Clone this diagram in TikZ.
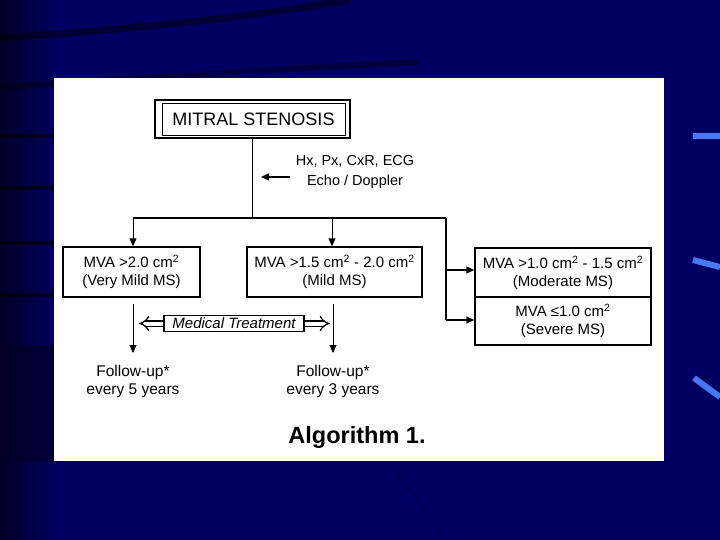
\documentclass[tikz,border=0pt]{standalone}
\usepackage{fontspec}
\setmainfont{Liberation Sans}
\usetikzlibrary{arrows.meta}
\definecolor{navy}{RGB}{0,0,98}
\definecolor{navydark}{RGB}{0,0,40}
\definecolor{accent}{RGB}{70,120,245}
\begin{document}
\begin{tikzpicture}[x=1pt,y=-1pt,
  box/.style={draw, line width=1.4pt, align=center, inner sep=0pt, font=\fontsize{15}{18}\selectfont},
  thin/.style={line width=0.6pt},
  arr/.style={line width=0.9pt, -{Triangle[length=8pt,width=7pt]}},
  lbl/.style={align=center, font=\fontsize{15.5}{18}\selectfont}]
\useasboundingbox (0,0) rectangle (720,540);
% background
\fill[navy] (0,0) rectangle (720,540);
\shade[left color=navydark, right color=navy] (0,0) rectangle (60,540);
\fill[navydark, opacity=0.7] (0,345) rectangle (54,462);
\draw[black, line width=7pt, opacity=0.45] (0,38) .. controls (120,30) and (230,20) .. (350,0);
\draw[black, line width=6pt, opacity=0.35] (0,87) .. controls (100,82) and (250,70) .. (420,62);
\foreach \yy in {136,188,243,295}
  \draw[black, line width=4pt, opacity=0.6] (0,\yy) -- (54,\yy);
\draw[accent, line width=6pt] (693,136) -- (720,136);
\draw[accent, line width=6pt] (693,260) -- (720,267);
\draw[accent, line width=6pt] (694,378) -- (720,397);
\draw[black, line width=2pt, opacity=0.2] (390,465) .. controls (410,490) and (430,515) .. (445,540);
% panel
\fill[white] (54,78) rectangle (664,461);
% title box
\node[draw, line width=1.8pt, minimum width=195pt, minimum height=38pt, inner sep=0pt] (ms) at (252.5,119) {};
\node[draw, line width=0.8pt, minimum width=183pt, minimum height=32pt, inner sep=0pt,
  font=\fontsize{18}{20}\selectfont] (msi) at (253.5,119) {MITRAL STENOSIS};
% info
\node[lbl, font=\fontsize{14.5}{20}\selectfont] (hx) at (355,172) {Hx, Px, CxR, ECG\\Echo / Doppler};
\coordinate (hxs) at (290,177);
\coordinate (hxe) at (261,177);
\draw[arr, line width=1.5pt] (hxs) -- (hxe);
% boxes
\node[box, minimum width=137pt, minimum height=50pt] (b1) at (131.5,272) {MVA >2.0 cm\textsuperscript{2}\\(Very Mild MS)};
\node[box, minimum width=175pt, minimum height=50pt] (b2) at (334.5,272) {MVA >1.5 cm\textsuperscript{2} - 2.0 cm\textsuperscript{2}\\(Mild MS)};
\node[box, minimum width=176pt, minimum height=49pt] (b3) at (563,272.5) {MVA >1.0 cm\textsuperscript{2} - 1.5 cm\textsuperscript{2}\\(Moderate MS)};
\node[box, minimum width=176pt, minimum height=48pt] (b4) at (563,321) {MVA ≤1.0 cm\textsuperscript{2}\\(Severe MS)};
% tree connectors
\coordinate (j) at (252.5,218);
\coordinate (jl) at (133,218);
\coordinate (jm) at (332,218);
\coordinate (jr) at (446,218);
\draw[thin] (ms.south) -- (j);
\draw[line width=1.2pt] (jl) -- (jr);
\draw[arr] (jl) -- (jl |- b1.north);
\draw[arr] (jm) -- (jm |- b2.north);
\draw[line width=1.6pt] (jr) -- (jr |- 0,320);
\draw[arr, line width=1.6pt] (jr |- 0,270) -- (b3.west |- 0,270);
\draw[arr, line width=1.6pt] (jr |- 0,320) -- (b4.west |- 0,320);
% follow-up
\node[lbl] (f1) at (133,381) {Follow-up*\\every 5 years};
\node[lbl] (f2) at (333,381) {Follow-up*\\every 3 years};
\coordinate (a1) at (133,304);
\coordinate (a2) at (333,304);
\draw[arr] (a1) -- (a1 |- 0,353);
\draw[arr] (a2) -- (a2 |- 0,353);
% medical treatment
\coordinate (mtl) at (139,323.5);
\coordinate (mtr) at (330,323.5);
\draw[double, double distance=4pt, line width=1.3pt, {Implies[scale=1.5]}-{Implies[scale=1.5]}] (mtl) -- (mtr);
\node[draw, line width=1.2pt, fill=white, inner sep=1.5pt, minimum width=140pt, minimum height=16pt,
  font=\fontsize{15}{17}\selectfont\itshape] (mt) at (234,323.5) {Medical Treatment};
% caption
\node[font=\fontsize{23.5}{26}\selectfont\bfseries] (alg) at (357,437) {Algorithm 1.};
\end{tikzpicture}
\end{document}
